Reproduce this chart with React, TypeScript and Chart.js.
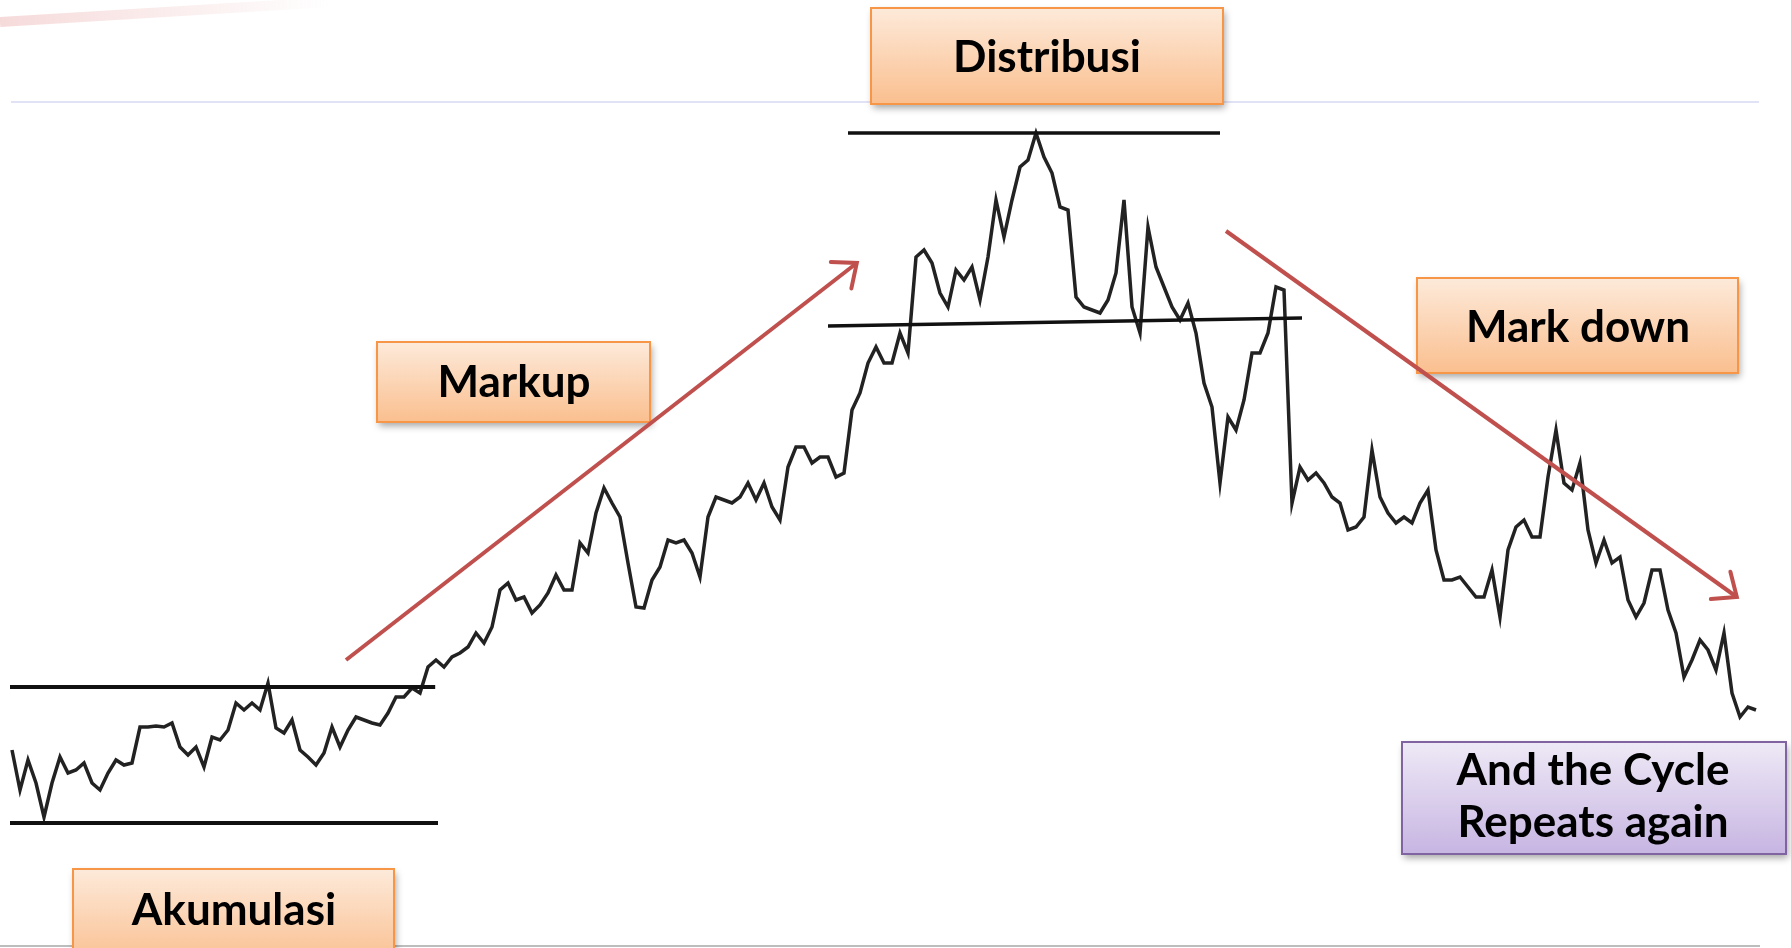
import React, { useEffect, useRef } from 'react';
import { Chart, registerables } from 'chart.js';

Chart.register(...registerables);

// Price path (one value per session, arbitrary price units)
const PRICE = [
  19.8, 15.8, 18.8, 16.5, 13.1, 16.5, 19.1, 17.5, 17.8, 18.5,
  16.5, 15.8, 17.5, 18.8, 18.3, 18.5, 22.1, 22.1, 22.2, 22.1,
  22.5, 20.1, 19.3, 20.1, 18.1, 21.1, 20.8, 21.8, 24.5, 23.8,
  24.5, 23.8, 26.5, 22.0, 21.5, 22.8, 19.8, 19.1, 18.3, 19.5,
  22.1, 20.1, 21.8, 23.1, 22.8, 22.5, 22.3, 23.5, 25.1, 25.1,
  26.0, 25.5, 28.1, 28.8, 28.1,
  29.1, 29.5, 30.1, 31.5, 30.5, 32.1, 35.8, 36.5, 34.8, 35.1,
  33.5, 34.3, 35.5, 37.3, 35.8, 35.8, 40.5, 39.5, 43.5, 46.0,
  44.5, 43.1, 38.5, 34.1, 34.0, 36.8, 38.1, 40.8, 40.5, 40.8,
  39.5, 37.1, 43.1, 45.1, 44.8, 44.5, 45.1, 46.5, 44.8, 46.5,
  44.1, 42.8, 48.1, 50.1, 50.1, 48.5, 49.1, 49.1, 47.1, 47.5,
  53.8, 55.5, 58.5, 60.1, 58.5, 58.5, 61.5, 59.5, 69.1, 69.8,
  68.5, 65.5, 64.1, 67.8, 66.8, 68.1, 64.8, 69.1, 74.8, 71.1,
  74.8, 78.1, 78.8, 81.5, 79.1, 77.5, 74.1, 73.8, 65.1, 64.1,
  63.8, 63.5, 64.8, 67.5, 74.8, 64.1, 61.5, 72.1, 68.1, 66.1,
  64.1, 62.8, 64.5, 61.5, 56.5, 54.1, 46.5, 53.1, 51.8, 54.8,
  59.5, 59.5, 61.5, 66.1,
  65.8, 44.5, 48.1, 46.8, 47.5, 46.5, 45.1, 44.5, 41.8, 42.1,
  43.1, 49.8, 45.1, 43.5, 42.5, 43.1, 42.5, 44.5, 45.8, 39.8,
  36.8, 36.8, 37.1, 36.1, 35.1, 35.1, 37.8, 33.1, 39.8, 42.1,
  42.8, 41.1, 41.1, 47.1, 51.8, 46.5, 45.8, 48.5, 41.8, 38.5,
  40.8, 38.5, 39.1, 34.8, 33.1, 34.5, 37.8, 37.8, 33.8, 31.5,
  27.1, 28.8, 30.8, 29.8, 27.8, 31.5, 25.5, 23.1, 24.1, 23.8,
];

// Support / resistance levels (session index, price)
const ACCUMULATION_HIGH = [{ x: -0.25, y: 26.1 }, { x: 52.9, y: 26.1 }];
const ACCUMULATION_LOW = [{ x: -0.25, y: 12.5 }, { x: 53.25, y: 12.5 }];
const DISTRIBUTION_HIGH = [{ x: 104.5, y: 81.5 }, { x: 151, y: 81.5 }];
const DISTRIBUTION_LOW = [{ x: 102, y: 62.2 }, { x: 161.25, y: 63.0 }];

// Trend arrows (session index, price)
const MARKUP_TREND = [{ x: 41.75, y: 28.8 }, { x: 105.6, y: 68.5 }];
const MARKDOWN_TREND = [{ x: 151.75, y: 71.7 }, { x: 215.6, y: 35.1 }];

// Phase labels
const PHASE_LABELS = ['Akumulasi', 'Markup', 'Distribusi', 'Mark down'];
const CYCLE_LABEL = ['And the Cycle', 'Repeats again'];

const W = 1791;
const H = 948;
const FONT = 'bold 44px Lato, "Open Sans", sans-serif';

type Box = {
  x: number; y: number; w: number; h: number;
  lines: string[]; top: string; bottom: string; border: string;
  cx: number; base: number[];
};

const ORANGE_TOP = '#FDEADA';
const ORANGE_BOTTOM = '#FABF8F';
const ORANGE_BORDER = '#F79646';

const BOXES: Box[] = [
  { x: 73, y: 869, w: 321, h: 96, lines: [PHASE_LABELS[0]], top: ORANGE_TOP, bottom: ORANGE_BOTTOM, border: ORANGE_BORDER, cx: 234, base: [925] },
  { x: 377, y: 342, w: 273, h: 80, lines: [PHASE_LABELS[1]], top: ORANGE_TOP, bottom: ORANGE_BOTTOM, border: ORANGE_BORDER, cx: 514, base: [397] },
  { x: 871, y: 8, w: 352, h: 96, lines: [PHASE_LABELS[2]], top: ORANGE_TOP, bottom: ORANGE_BOTTOM, border: ORANGE_BORDER, cx: 1047, base: [72] },
  { x: 1417, y: 278, w: 321, h: 95, lines: [PHASE_LABELS[3]], top: ORANGE_TOP, bottom: ORANGE_BOTTOM, border: ORANGE_BORDER, cx: 1578, base: [342] },
  { x: 1402, y: 742, w: 384, h: 112, lines: CYCLE_LABEL, top: '#EEE9F6', bottom: '#C7B5E2', border: '#8064A2', cx: 1593, base: [785, 837] },
];

const decorPlugin = {
  id: 'decor',
  beforeDatasetsDraw(chart: any) {
    const ctx = chart.ctx as CanvasRenderingContext2D;
    ctx.save();
    // faint top rule
    ctx.strokeStyle = '#E2E2F6';
    ctx.lineWidth = 2;
    ctx.beginPath();
    ctx.moveTo(11, 102);
    ctx.lineTo(1759, 102);
    ctx.stroke();
    // bottom rule
    ctx.strokeStyle = '#BDBDBD';
    ctx.lineWidth = 2;
    ctx.beginPath();
    ctx.moveTo(0, 946);
    ctx.lineTo(1760, 946);
    ctx.stroke();
    // faint smudge top-left
    const g = ctx.createLinearGradient(0, 0, 330, 0);
    g.addColorStop(0, 'rgba(230,150,150,0.35)');
    g.addColorStop(1, 'rgba(230,150,150,0)');
    ctx.strokeStyle = g;
    ctx.lineWidth = 10;
    ctx.beginPath();
    ctx.moveTo(0, 22);
    ctx.lineTo(330, 2);
    ctx.stroke();

    for (const b of BOXES) {
      ctx.save();
      ctx.shadowColor = 'rgba(0,0,0,0.35)';
      ctx.shadowBlur = 7;
      ctx.shadowOffsetX = 2;
      ctx.shadowOffsetY = 4;
      const gr = ctx.createLinearGradient(0, b.y, 0, b.y + b.h);
      gr.addColorStop(0, b.top);
      gr.addColorStop(1, b.bottom);
      ctx.fillStyle = gr;
      ctx.fillRect(b.x, b.y, b.w, b.h);
      ctx.restore();
      ctx.strokeStyle = b.border;
      ctx.lineWidth = 2;
      ctx.strokeRect(b.x, b.y, b.w, b.h);
      ctx.fillStyle = '#000';
      ctx.font = FONT;
      ctx.textAlign = 'center';
      ctx.textBaseline = 'alphabetic';
      b.lines.forEach((t, k) => ctx.fillText(t, b.cx, b.base[k]));
    }
    ctx.restore();
  },
  afterDatasetsDraw(chart: any) {
    const ctx = chart.ctx as CanvasRenderingContext2D;
    chart.data.datasets.forEach((ds: any, i: number) => {
      if (!ds.arrow) return;
      const pts = chart.getDatasetMeta(i).data;
      const a = pts[0];
      const b = pts[pts.length - 1];
      const ang = Math.atan2(b.y - a.y, b.x - a.x);
      const len = 26;
      const spread = 0.7;
      ctx.save();
      ctx.strokeStyle = ds.borderColor;
      ctx.lineWidth = ds.borderWidth;
      ctx.lineCap = 'round';
      ctx.lineJoin = 'miter';
      ctx.beginPath();
      ctx.moveTo(b.x - len * Math.cos(ang - spread), b.y - len * Math.sin(ang - spread));
      ctx.lineTo(b.x, b.y);
      ctx.lineTo(b.x - len * Math.cos(ang + spread), b.y - len * Math.sin(ang + spread));
      ctx.stroke();
      ctx.restore();
    });
  },
};

export default function App() {
  const ref = useRef<HTMLCanvasElement | null>(null);
  useEffect(() => {
    if (!ref.current) return;
    const level = (data: any[], width: number) => ({
      data, borderColor: '#111', borderWidth: width, pointRadius: 0, tension: 0, fill: false,
    });
    const chart = new Chart(ref.current, {
      type: 'line',
      data: {
        datasets: [
          { ...level(MARKUP_TREND, 4), borderColor: '#C0504D', arrow: true } as any,
          { ...level(MARKDOWN_TREND, 4), borderColor: '#C0504D', arrow: true } as any,
          level(ACCUMULATION_HIGH, 4),
          level(ACCUMULATION_LOW, 4),
          level(DISTRIBUTION_HIGH, 3.5),
          level(DISTRIBUTION_LOW, 3.5),
          {
            data: PRICE.map((v, i) => ({ x: i, y: v })),
            borderColor: '#222',
            borderWidth: 3.5,
            pointRadius: 0,
            tension: 0,
            fill: false,
          },
        ],
      },
      options: {
        animation: false,
        responsive: false,
        devicePixelRatio: 1,
        layout: { padding: 0 },
        plugins: { legend: { display: false }, tooltip: { enabled: false } },
        scales: {
          x: { type: 'linear', min: -1.5, max: 222.375, display: false },
          y: { type: 'linear', min: 0, max: 94.8, display: false },
        },
      },
      plugins: [decorPlugin],
    });
    return () => chart.destroy();
  }, []);
  return (
    <div style={{ position: 'absolute', left: 0, top: 0, width: W, height: H, background: '#fff' }}>
      <canvas ref={ref} width={W} height={H} style={{ display: 'block' }} />
    </div>
  );
}
